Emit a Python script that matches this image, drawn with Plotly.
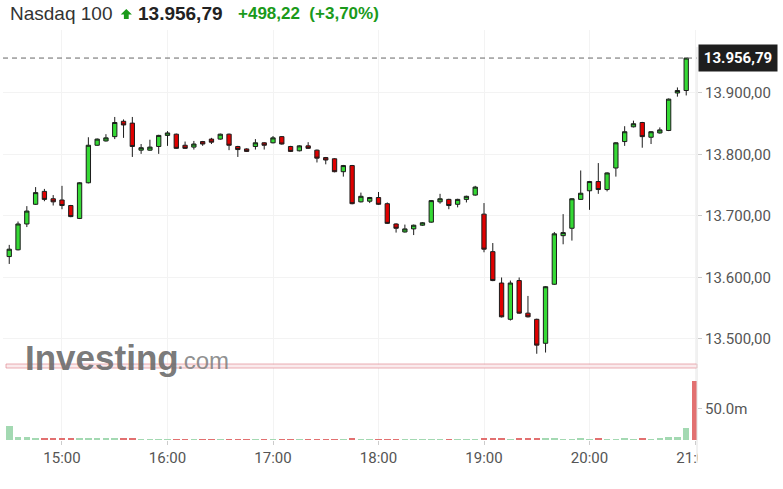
import pandas as pd
import plotly.graph_objects as go

# 5-minute candles, 14:30 -> 20:55
start_time = "2020-11-04 14:30"
opens = [13634, 13645, 13687, 13719, 13740, 13728, 13726, 13717, 13696, 13754,
         13815, 13822, 13829, 13854, 13851, 13807, 13807, 13813, 13831, 13833,
         13815, 13812, 13821, 13825, 13825, 13833, 13813, 13809, 13813, 13819,
         13819, 13829, 13813, 13806, 13814, 13807, 13795, 13793, 13772, 13782,
         13723, 13724, 13730, 13720, 13687, 13674, 13679, 13685, 13690, 13723,
         13727, 13719, 13727, 13734, 13703, 13642, 13591, 13532, 13595, 13542,
         13532, 13493, 13589, 13668, 13680, 13727, 13741, 13756, 13743, 13778,
         13821, 13845, 13852, 13828, 13835, 13839, 13900, 13904]
highs = [13653, 13691, 13716, 13747, 13744, 13734, 13749, 13718, 13755, 13828,
         13826, 13833, 13861, 13857, 13861, 13817, 13824, 13832, 13838, 13834,
         13821, 13822, 13822, 13827, 13834, 13834, 13814, 13810, 13825, 13820,
         13830, 13830, 13814, 13815, 13820, 13808, 13796, 13794, 13783, 13783,
         13738, 13731, 13739, 13722, 13688, 13686, 13686, 13690, 13726, 13736,
         13728, 13728, 13733, 13749, 13721, 13656, 13600, 13595, 13600, 13570,
         13533, 13586, 13674, 13703, 13729, 13774, 13757, 13786, 13771, 13820,
         13846, 13855, 13853, 13838, 13844, 13891, 13909, 13957]
lows = [13622, 13644, 13682, 13718, 13724, 13717, 13711, 13698, 13695, 13753,
        13814, 13821, 13825, 13827, 13796, 13801, 13806, 13801, 13814, 13809,
        13809, 13808, 13814, 13817, 13824, 13807, 13796, 13804, 13808, 13808,
        13818, 13816, 13804, 13805, 13809, 13787, 13784, 13771, 13764, 13719,
        13722, 13721, 13718, 13687, 13673, 13673, 13669, 13684, 13689, 13720,
        13711, 13714, 13722, 13733, 13641, 13594, 13535, 13530, 13541, 13535,
        13476, 13478, 13588, 13654, 13660, 13726, 13710, 13736, 13740, 13764,
        13814, 13844, 13811, 13817, 13834, 13838, 13894, 13896]
closes = [13646, 13687, 13708, 13738, 13727, 13723, 13717, 13699, 13754, 13815,
          13825, 13827, 13852, 13848, 13813, 13811, 13812, 13831, 13835, 13810,
          13810, 13817, 13817, 13820, 13833, 13815, 13808, 13805, 13819, 13815,
          13827, 13817, 13805, 13814, 13810, 13794, 13791, 13772, 13782, 13720,
          13732, 13730, 13719, 13688, 13680, 13679, 13685, 13689, 13725, 13728,
          13717, 13727, 13732, 13747, 13646, 13595, 13536, 13591, 13542, 13536,
          13490, 13585, 13671, 13673, 13728, 13737, 13756, 13743, 13770, 13819,
          13837, 13850, 13829, 13837, 13840, 13890, 13904, 13956.79]
# volume in millions, one per candle
volumes = [22.7, 5.0, 5.0, 2.5, 2.5, 2.5, 2.5, 2.5, 2.5, 2.5,
           2.0, 2.0, 2.0, 2.0, 2.5, 1.5, 1.2, 1.3, 1.2, 1.4,
           1.2, 1.0, 1.1, 1.0, 1.2, 1.3, 1.1, 1.0, 1.1, 1.0,
           1.2, 1.1, 1.2, 1.0, 1.1, 1.3, 1.2, 1.4, 1.3, 1.8,
           1.2, 1.1, 1.3, 1.4, 1.2, 1.2, 1.0, 1.1, 1.0, 1.2,
           1.1, 1.0, 1.2, 1.3, 2.5, 2.8, 2.5, 1.5, 2.0, 1.8,
           2.8, 2.5, 2.5, 1.5, 1.2, 2.5, 1.3, 2.5, 1.3, 1.2,
           2.2, 1.0, 2.0, 1.2, 3.0, 4.5, 4.5, 19.5]
# closing-auction bar at 21:00 (no candle drawn)
closing_time = "2020-11-04 21:00"
closing_volume = 94.0

last_price = 13956.79
price_ticks = [13500, 13600, 13700, 13800, 13900]
hour_ticks = ["2020-11-04 15:00", "2020-11-04 16:00", "2020-11-04 17:00", "2020-11-04 18:00",
              "2020-11-04 19:00", "2020-11-04 20:00", "2020-11-04 21:00"]

times = pd.date_range(start_time, periods=len(opens), freq="5min")

GREEN = "#35d935"
RED = "#e00000"
VOL_GREEN = "#a3d9b2"
VOL_RED = "#e27070"

vol_colors = [VOL_GREEN if c >= o else VOL_RED for o, c in zip(opens, closes)]

fig = go.Figure()
fig.add_trace(go.Candlestick(
    x=times, open=opens, high=highs, low=lows, close=closes,
    increasing=dict(fillcolor=GREEN, line=dict(color="#1c1c1c", width=1)),
    decreasing=dict(fillcolor=RED, line=dict(color="#1c1c1c", width=1)),
    whiskerwidth=0, hoverinfo="skip", xaxis="x", yaxis="y"
))
fig.add_trace(go.Bar(
    x=list(times) + [pd.Timestamp(closing_time)],
    y=volumes + [closing_volume],
    marker=dict(color=vol_colors + [VOL_RED], line=dict(width=0)),
    width=222000, hoverinfo="skip", xaxis="x", yaxis="y2"
))

# Plot area in screen pixels: x 3..697, y 30..440
W, H = 783, 489
L, R, T, B = 3, 783 - 697, 30, 489 - 440
pw, ph = W - L - R, H - T - B


def px(x):
    return (x - L) / pw


def py(y):
    return (H - B - y) / ph


fig.update_layout(
    width=W, height=H,
    margin=dict(l=L, r=R, t=T, b=B),
    paper_bgcolor="white", plot_bgcolor="white",
    showlegend=False, separators=",.",
    font=dict(family="Roboto", color="#555"),
    xaxis=dict(
        anchor="y2", type="date",
        range=["2020-11-04 14:26:27", "2020-11-04 21:01:08"],
        tickvals=hour_ticks, tickformat="%H:%M",
        tickfont=dict(size=15, color="#555"),
        ticks="outside", ticklen=4, tickcolor="#cccccc",
        showgrid=True, gridcolor="#f3f3f3", showline=False, zeroline=False,
        rangeslider=dict(visible=False),
    ),
    yaxis=dict(
        domain=[py(365), 1], side="right", anchor="x",
        range=[13457.7, 14002.4],
        tickvals=price_ticks, tickformat=",.2f",
        tickfont=dict(size=15, color="#555"),
        ticks="outside", ticklen=4, tickcolor="#cccccc",
        showgrid=True, gridcolor="#f3f3f3", zeroline=False, showline=False,
    ),
    yaxis2=dict(
        domain=[0, py(368)], side="right", anchor="x",
        range=[0, 114.3],
        tickvals=[50], ticktext=["50.0m"],
        tickfont=dict(size=15, color="#555"),
        ticks="outside", ticklen=4, tickcolor="#cccccc",
        showgrid=False, zeroline=False, showline=False,
    ),
    bargap=0,
)

shapes = [
    # last price dashed line
    dict(type="line", xref="paper", yref="y", x0=0, x1=1, y0=last_price, y1=last_price,
         line=dict(color="#666", width=1, dash="5px,4px")),
    # pane separator
    dict(type="rect", xref="paper", yref="paper", x0=px(6), x1=1, y0=py(368), y1=py(364),
         line=dict(color="rgba(225,140,150,0.7)", width=1), fillcolor="rgba(245,215,220,0.5)"),
    # right axis line
    dict(type="line", xref="paper", yref="paper", x0=1, x1=1, y0=py(463), y1=py(47),
         line=dict(color="#e2e2e2", width=1)),
    # clip the last time label at the axis edge
    dict(type="rect", xref="paper", yref="paper", x0=px(698), x1=px(783), y0=py(470), y1=py(446),
         line=dict(width=0), fillcolor="white", layer="above"),
    # up arrow in header
    dict(type="path", xref="paper", yref="paper", xsizemode="pixel", ysizemode="pixel",
         xanchor=px(126.3), yanchor=py(14),
         path="M -5.6,-0.5 L 0,5 L 5.6,-0.5 L 2.4,-0.5 L 2.4,-5 L -2.4,-5 L -2.4,-0.5 Z",
         line=dict(width=0), fillcolor="#1a9a1a", layer="above"),
]
fig.update_layout(shapes=shapes)

annotations = [
    dict(text="Nasdaq 100", x=px(8), y=py(14), xanchor="left", yanchor="middle",
         font=dict(family="Liberation Sans", size=19, color="#333")),
    dict(text="<b>13.956,79</b>", x=px(136), y=py(14), xanchor="left", yanchor="middle",
         font=dict(family="Liberation Sans", size=19, color="#222")),
    dict(text="<b>+498,22  (+3,70%)</b>", x=px(236), y=py(14), xanchor="left", yanchor="middle",
         font=dict(family="Liberation Sans", size=17, color="#1a9a1a")),
    # last price tag
    dict(text="<b>13.956,79</b>", xref="paper", yref="y", x=1, y=last_price,
         xanchor="left", yanchor="middle", xshift=1, showarrow=False,
         bgcolor="#1e1e1e", borderpad=4, width=70,
         font=dict(family="Roboto", size=15, color="white")),
    # watermark
    dict(text="<b>Investing</b>", x=px(23), y=py(357), xanchor="left", yanchor="middle",
         font=dict(family="Liberation Sans", size=35, color="rgba(105,105,105,0.9)")),
    dict(text=".com", x=px(175), y=py(360), xanchor="left", yanchor="middle",
         font=dict(family="Liberation Sans", size=24, color="rgba(130,130,130,0.9)")),
]
for a in annotations:
    a.setdefault("xref", "paper")
    a.setdefault("yref", "paper")
    a.setdefault("showarrow", False)
fig.update_layout(annotations=annotations)

# drop the default page margin so the figure sits at the window's top-left corner
fig.write_html("out.html", config={"displayModeBar": False},
               post_script="document.body.style.margin = '0';")
